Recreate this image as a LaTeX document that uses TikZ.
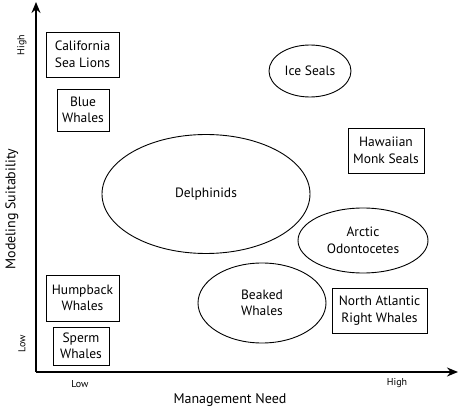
\documentclass[tikz,border=0pt]{standalone}
\usepackage{fontspec}
\setmainfont{PT Sans}
\usetikzlibrary{arrows.meta,shapes.geometric}
\tikzset{
  box/.style={draw, line width=0.9pt, rectangle, inner sep=0pt, align=center, font=\fontsize{13.5}{16.5}\selectfont},
  oval/.style={draw, line width=0.9pt, ellipse, inner sep=0pt, align=center, font=\fontsize{13.5}{16.5}\selectfont},
  axis/.style={line width=1.6pt, -{Stealth[length=11pt,width=9pt]}},
  tick/.style={font=\fontsize{10}{11}\selectfont},
  axlabel/.style={font=\fontsize{14}{15}\selectfont}
}
\begin{document}
\begin{tikzpicture}[x=1pt,y=-1pt]
\useasboundingbox (0,0) rectangle (459,412);
\coordinate (o) at (36,372);
\coordinate (ytop) at (36,2);
\coordinate (xend) at (458,372);
\draw[axis] (o) -- (ytop);
\draw[axis] (o) -- (xend);
\node[box, minimum width=73pt, minimum height=45pt] (csl) at (82.5,54.5) {California\\Sea Lions};
\node[box, minimum width=52pt, minimum height=42pt] (blue) at (83,110) {Blue\\Whales};
\node[box, minimum width=73pt, minimum height=46pt] (hump) at (82.5,298) {Humpback\\Whales};
\node[box, minimum width=56pt, minimum height=38pt] (sperm) at (81,346) {Sperm\\Whales};
\node[box, minimum width=95pt, minimum height=45pt] (nar) at (379.5,310.5) {North Atlantic\\Right Whales};
\node[box, minimum width=76pt, minimum height=45pt] (haw) at (386,150.5) {Hawaiian\\Monk Seals};
\node[oval, minimum width=82pt, minimum height=52pt] (ice) at (310,71) {Ice Seals};
\node[oval, minimum width=208pt, minimum height=119pt] (del) at (206,194) {Delphinids};
\node[oval, minimum width=130pt, minimum height=65pt] (arc) at (363,240.5) {Arctic\\Odontocetes};
\node[oval, minimum width=128pt, minimum height=80pt] (bw) at (262,303) {Beaked\\Whales};
\node[tick, rotate=90] (yhigh) at (22,45) {High};
\node[tick, rotate=90] (ylow) at (22,344) {Low};
\node[tick] (xlow) at (80,384) {Low};
\node[tick] (xhigh) at (397,383) {High};
\node[axlabel] (xl) at (230,400) {Management Need};
\node[axlabel, rotate=90] (yl) at (12,209) {Modeling Suitability};
\end{tikzpicture}
\end{document}
